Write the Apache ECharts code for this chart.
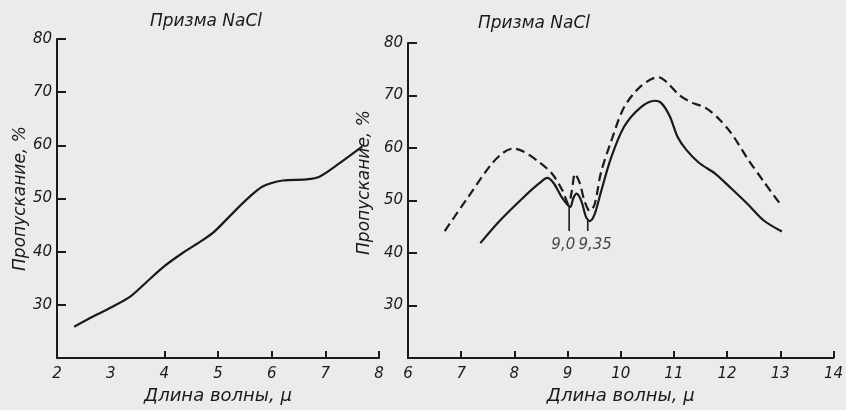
<!DOCTYPE html>
<html>
<head>
<meta charset="utf-8">
<script src="https://cdn.jsdelivr.net/npm/echarts@6/dist/echarts.min.js"></script>
<style>
  html, body { margin: 0; padding: 0; background: #ebebeb; }
  #chart { width: 846px; height: 410px; }
</style>
</head>
<body>
<div id="chart"></div>
<script>
// ---- data ----
const titleText = 'Призма NaCl';
const xName = 'Длина волны, μ';
const yName = 'Пропускание, %';

// left chart (single solid curve)
const leftX = [2.32, 2.69, 3.06, 3.37, 3.68, 3.99, 4.36, 4.61, 4.91, 5.22, 5.53, 5.84, 6.21, 6.64, 6.89, 7.26, 7.69];
const leftY = [25.9, 27.9, 29.8, 31.6, 34.4, 37.2, 39.9, 41.5, 43.6, 46.7, 49.8, 52.3, 53.4, 53.6, 54.1, 56.6, 59.8];
const leftXTicks = [4, 5, 6, 7, 8];
const leftXLabels = [2, 3, 4, 5, 6, 7, 8];

// right chart, dashed curve
const dashX = [6.69, 7.12, 7.55, 7.79, 7.98, 8.16, 8.47, 8.71, 8.90, 9.02, 9.08, 9.14, 9.23, 9.32, 9.42, 9.51, 9.63, 9.81, 10.06, 10.37, 10.70, 10.86, 11.10, 11.35, 11.59, 11.84, 12.08, 12.39, 12.69, 13.00];
const dashY = [44.2, 50.5, 56.7, 59.1, 59.9, 59.4, 57.3, 55.1, 52.0, 49.4, 51.8, 55.1, 53.3, 49.9, 48.0, 49.3, 55.4, 61.0, 67.7, 71.7, 73.5, 72.6, 70.1, 68.6, 67.7, 65.6, 62.8, 57.9, 53.6, 49.3];

// right chart, solid curve
const solidX = [7.36, 7.73, 8.16, 8.47, 8.62, 8.74, 8.90, 9.05, 9.11, 9.17, 9.26, 9.35, 9.42, 9.51, 9.63, 9.81, 10.06, 10.37, 10.64, 10.76, 10.92, 11.07, 11.23, 11.47, 11.78, 12.08, 12.39, 12.69, 13.03];
const solidY = [41.9, 46.2, 50.5, 53.3, 54.3, 53.3, 50.5, 48.8, 50.5, 51.3, 49.9, 46.8, 46.1, 47.4, 51.7, 57.9, 64.0, 67.7, 69.0, 68.6, 66.1, 62.1, 59.7, 57.2, 55.1, 52.3, 49.3, 46.2, 44.1];
const rightXTicks = [7, 8, 9, 10, 11, 12, 13, 14];
const rightXLabels = [6, 7, 8, 9, 10, 11, 12, 13, 14];

const yTicks = [30, 40, 50, 60, 70, 80];

// annotation marks on the right chart
const annotX = [9.03, 9.38];
const annotTop = [49.0, 46.2];
const annotBottom = [44.2, 44.2];
const annotLabels = ['9,0', '9,35'];
const annotLabelX = [8.92, 9.52];
const annotLabelY = [41.6, 41.6];

// ---- drawing ----
const ink = '#1a1a1a';
const font = 'DejaVu Sans';
const pairs = (xs, ys) => xs.map((x, i) => [x, ys[i]]);

function xAxisCfg(grid, min, max, ticks, labels, nameGap) {
  return {
    type: 'value', gridIndex: grid, min: min, max: max, interval: 1,
    splitLine: { show: false },
    axisLine: { lineStyle: { color: ink, width: 2 } },
    axisTick: { show: true, inside: true, length: 7, customValues: ticks, lineStyle: { color: ink, width: 2 } },
    axisLabel: { customValues: labels, color: ink, fontFamily: font, fontStyle: 'italic', fontSize: 15, margin: 9 },
    name: xName, nameLocation: 'middle', nameGap: nameGap,
    nameTextStyle: { color: ink, fontFamily: font, fontStyle: 'italic', fontSize: 18 }
  };
}
function yAxisCfg(grid, gap, padding) {
  return {
    type: 'value', gridIndex: grid, min: 20, max: 80, interval: 10,
    splitLine: { show: false },
    axisLine: { lineStyle: { color: ink, width: 2 } },
    axisTick: { show: true, inside: true, length: 9, customValues: yTicks, lineStyle: { color: ink, width: 2 } },
    axisLabel: { customValues: yTicks, color: ink, fontFamily: font, fontStyle: 'italic', fontSize: 15, margin: 5 },
    name: yName, nameLocation: 'middle', nameGap: gap,
    nameTextStyle: { color: ink, fontFamily: font, fontStyle: 'italic', fontSize: 17, padding: padding }
  };
}

const series = [
  { type: 'line', xAxisIndex: 0, yAxisIndex: 0, data: pairs(leftX, leftY), smooth: 0.3, showSymbol: false,
    lineStyle: { color: ink, width: 2.2 } },
  { type: 'line', xAxisIndex: 1, yAxisIndex: 1, data: pairs(dashX, dashY), smooth: 0.3, showSymbol: false,
    lineStyle: { color: ink, width: 2.2, type: [9, 5] } },
  { type: 'line', xAxisIndex: 1, yAxisIndex: 1, data: pairs(solidX, solidY), smooth: 0.3, showSymbol: false,
    lineStyle: { color: ink, width: 2.2 } }
];
annotX.forEach((x, i) => {
  series.push({ type: 'line', xAxisIndex: 1, yAxisIndex: 1, showSymbol: false, silent: true,
    data: [[x, annotTop[i]], [x, annotBottom[i]]], lineStyle: { color: ink, width: 1.6 } });
});
series.push({
  type: 'scatter', xAxisIndex: 1, yAxisIndex: 1, symbolSize: 0, silent: true,
  data: annotLabels.map((t, i) => ({ value: [annotLabelX[i], annotLabelY[i]], name: t })),
  label: { show: true, position: 'inside', formatter: p => p.name, color: ink,
    fontFamily: font, fontStyle: 'italic', fontSize: 15 }
});

const chart = echarts.init(document.getElementById('chart'));
chart.setOption({
  animation: false,
  backgroundColor: '#ebebeb',
  grid: [
    { left: 57, top: 39, right: 467, bottom: 50 },
    { left: 408, top: 43, right: 5, bottom: 47 }
  ],
  xAxis: [xAxisCfg(0, 2, 8, leftXTicks, leftXLabels, 25), xAxisCfg(1, 6, 14, rightXTicks, rightXLabels, 27)],
  yAxis: [yAxisCfg(0, 26, [0, 0, 0, 0]), yAxisCfg(1, 22, [0, 0, 0, 36])],
  graphic: [
    { type: 'text', x: 206, y: 22, style: { text: titleText, align: 'center', verticalAlign: 'middle',
      fill: ink, font: 'italic 17px "DejaVu Sans"' } },
    { type: 'text', x: 534, y: 24, style: { text: titleText, align: 'center', verticalAlign: 'middle',
      fill: ink, font: 'italic 17px "DejaVu Sans"' } }
  ],
  series: series
});
</script>
</body>
</html>
